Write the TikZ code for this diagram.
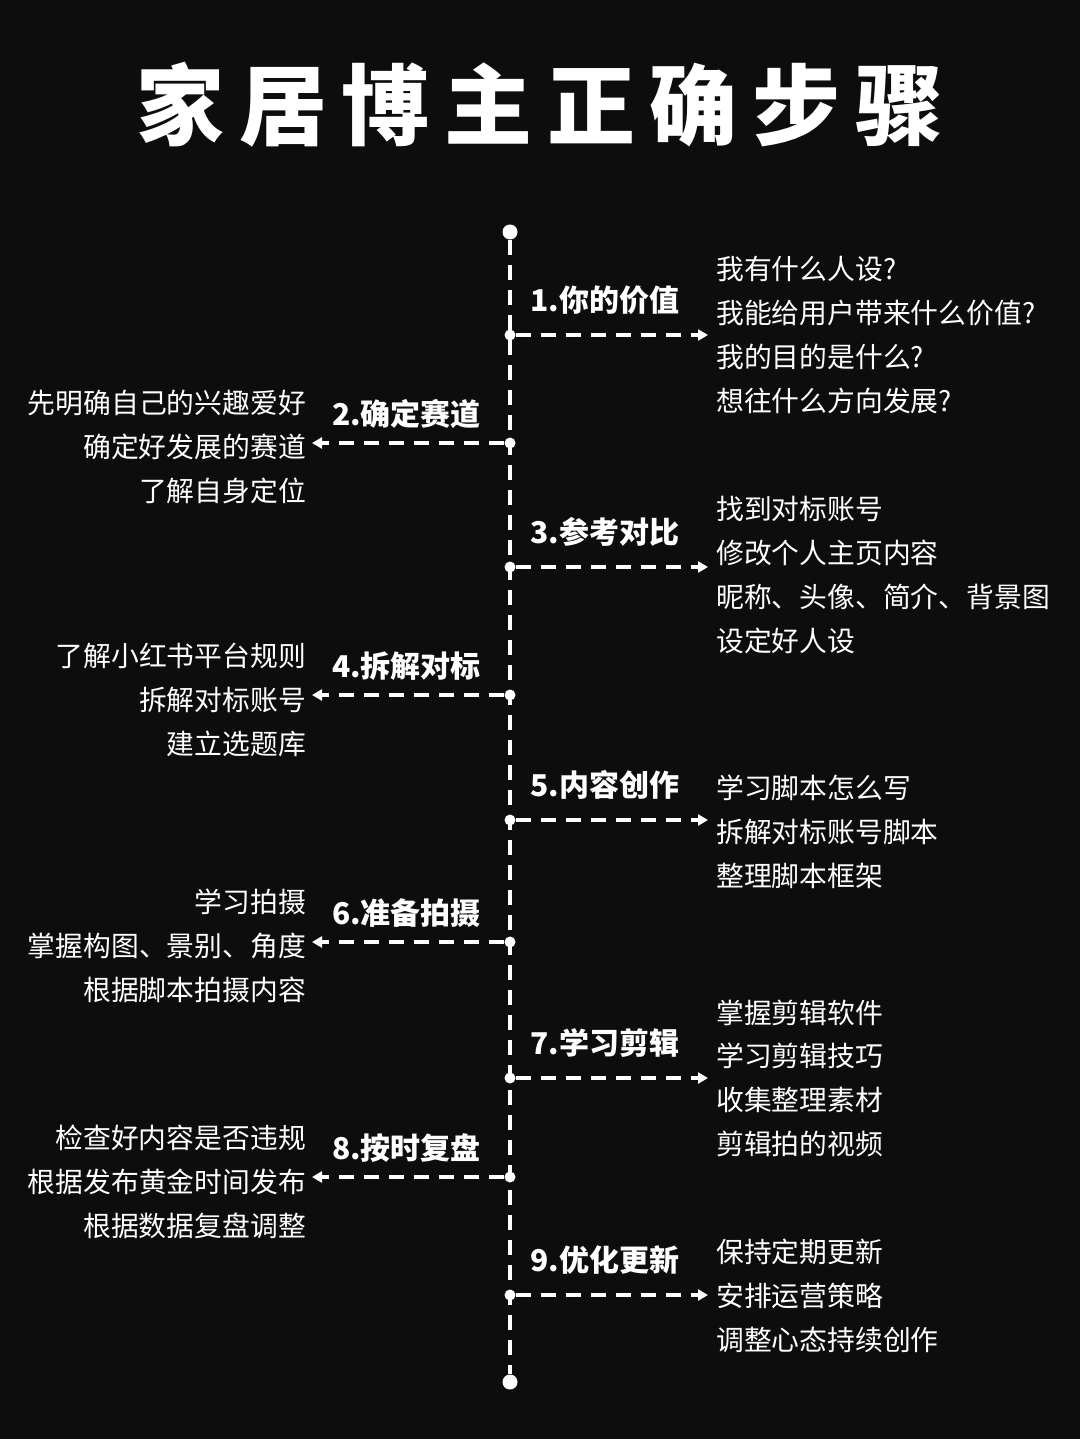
\documentclass[tikz,border=0pt]{standalone}
\usepackage{fontspec}
\setmainfont{Noto Sans CJK SC}
\usetikzlibrary{arrows.meta}
\definecolor{bg}{HTML}{0D0D0D}
\begin{document}
\begin{tikzpicture}[x=1pt,y=-1pt,
  dashln/.style={white,line width=4pt,dash pattern=on 15pt off 10pt},
  branch/.style={dashln,-{Triangle[length=10pt,width=11pt]}},
  dotn/.style={circle,fill=white,inner sep=0pt,minimum size=15pt},
  jn/.style={circle,fill=white,inner sep=0pt,minimum size=11pt},
  lab/.style={text=white,font=\fontsize{30}{30}\selectfont\bfseries,inner sep=0pt},
  rtxt/.style={text=white,font=\fontsize{27.8}{43.7}\selectfont,align=left,anchor=west,inner sep=0pt},
  ltxt/.style={text=white,font=\fontsize{27.8}{43.7}\selectfont,align=right,anchor=east,inner sep=0pt}]
\fill[bg] (0,0) rectangle (1080,1439);
\node[text=white,font=\fontsize{88}{88}\selectfont\bfseries,inner sep=0pt] (title) at (540,105) {家\,居\,博\,主\,正\,确\,步\,骤};
\node[dotn] (top) at (510,232) {};
\node[dotn] (bot) at (510,1382) {};
\draw[dashln] (top) -- (bot);
\foreach \n/\y/\lab in {1/335/1.你的价值,3/567/3.参考对比,5/820/5.内容创作,7/1078/7.学习剪辑,9/1295/9.优化更新}{
  \node[jn] (j\n) at (510,\y) {};
  \coordinate (e\n) at (708,\y);
  \draw[branch] (j\n) -- (e\n);
  \node[lab,anchor=west] (l\n) at (530,\y-35) {\lab};
}
\foreach \n/\y/\lab in {2/443/2.确定赛道,4/695/4.拆解对标,6/942/6.准备拍摄,8/1177/8.按时复盘}{
  \node[jn] (j\n) at (510,\y) {};
  \coordinate (e\n) at (312,\y);
  \draw[branch] (j\n) -- (e\n);
  \node[lab,anchor=east] (l\n) at (481,\y-29) {\lab};
}
\node[rtxt] (t1) at (716,335) {我有什么人设?\\我能给用户带来什么价值?\\我的目的是什么?\\想往什么方向发展?};
\node[rtxt] (t3) at (716,575) {找到对标账号\\修改个人主页内容\\昵称、头像、简介、背景图\\设定好人设};
\node[rtxt] (t5) at (716,832) {学习脚本怎么写\\拆解对标账号脚本\\整理脚本框架};
\node[rtxt] (t7) at (716,1078) {掌握剪辑软件\\学习剪辑技巧\\收集整理素材\\剪辑拍的视频};
\node[rtxt] (t9) at (716,1296) {保持定期更新\\安排运营策略\\调整心态持续创作};
\node[ltxt] (t2) at (306,447) {先明确自己的兴趣爱好\\确定好发展的赛道\\了解自身定位};
\node[ltxt] (t4) at (306,700) {了解小红书平台规则\\拆解对标账号\\建立选题库};
\node[ltxt] (t6) at (306,946) {学习拍摄\\掌握构图、景别、角度\\根据脚本拍摄内容};
\node[ltxt] (t8) at (306,1182) {检查好内容是否违规\\根据发布黄金时间发布\\根据数据复盘调整};
\end{tikzpicture}
\end{document}
